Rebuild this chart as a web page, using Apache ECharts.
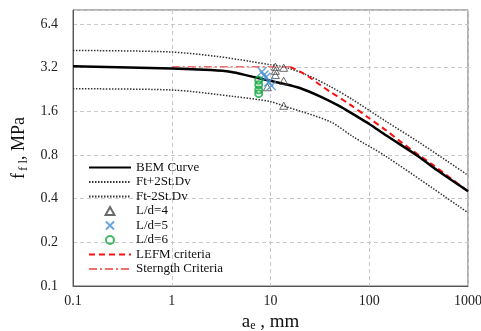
<!DOCTYPE html>
<html>
<head>
<meta charset="utf-8">
<script src="https://cdn.jsdelivr.net/npm/echarts@6/dist/echarts.min.js"></script>
<style>
  html, body { margin: 0; padding: 0; background: #fff; }
  #chart { width: 481px; height: 331px; }
</style>
</head>
<body>
<div id="chart"></div>
<script>
// y axis is log base 2 starting at 0.1 MPa, so values are mapped to log2(y / 0.1)
const Y_BASE = 0.1;
const Y_MAX = 8;
const xTicks = [0.1, 1, 10, 100, 1000];

const bemX = [0.1, 1, 2.5, 3.9, 6.2, 9.9, 12.5, 19.8, 31.7, 50.6, 68.5, 100, 149, 326, 484, 1000];
const bemY = [3.27, 3.16, 3.08, 3.0, 2.8, 2.6, 2.51, 2.32, 2.03, 1.73, 1.53, 1.31, 1.09, 0.77, 0.63, 0.45];

const upX = [0.1, 0.96, 2.86, 6.2, 9.9, 14.6, 23.2, 40, 68.5, 149, 326, 1000];
const upY = [4.21, 4.11, 3.83, 3.54, 3.36, 3.2, 2.86, 2.38, 1.92, 1.36, 0.97, 0.58];

const loX = [0.1, 0.96, 4.17, 9.9, 13.4, 40, 68.5, 149, 1000];
const loY = [2.29, 2.25, 2.03, 1.87, 1.75, 1.36, 1.07, 0.78, 0.32];

const ld4X = [11.2, 11.2, 11.2, 13.6, 13.6, 9.3, 13.6];
const ld4Y = [3.25, 3.05, 2.85, 3.2, 2.6, 2.35, 1.75];
const ld5X = [8.2, 8.6, 9.0, 9.6, 10.2];
const ld5Y = [3.0, 2.85, 2.75, 2.55, 2.4];
const ld6X = [7.6, 7.6, 7.6, 7.6];
const ld6Y = [2.62, 2.44, 2.25, 2.12];

const lefmX = [15.8, 19.8, 25.2, 31.7, 40, 64, 95, 149, 215, 326, 434, 1000];
const lefmY = [3.24, 3.02, 2.73, 2.44, 2.19, 1.78, 1.47, 1.18, 0.97, 0.79, 0.69, 0.45];

const strX = [1, 16];
const strY = [3.25, 3.25];

const lineNames = ['BEM Curve', 'Ft+2St.Dv', 'Ft-2St.Dv'];
const markNames = ['L/d=4', 'L/d=5', 'L/d=6'];
const critNames = ['LEFM criteria', 'Sterngth Criteria'];

const toY = v => Math.log2(v / Y_BASE);
const pts = (xs, ys) => xs.map((x, i) => [x, toY(ys[i])]);

const FONT = 'Liberation Serif';
const chart = echarts.init(document.getElementById('chart'));

const dotted = { color: '#333', width: 1.5, type: [1.5, 1.5] };
// line series draw a circle in their legend icon, hide it
const noDot = name => ({ name, itemStyle: { opacity: 0 } });

const options = {
  backgroundColor: '#fff',
  animation: false,
  grid: {
    left: 73, right: 13, top: 10, bottom: 45,
    outerBoundsMode: 'none',
    show: true, borderColor: '#666', borderWidth: 1
  },
  legend: {
    orient: 'vertical',
    left: 88, top: 161, padding: 0,
    itemWidth: 42, itemHeight: 8, itemGap: 1.5,
    symbolKeepAspect: true,
    textStyle: { fontFamily: FONT, fontSize: 13, lineHeight: 12, color: '#111' },
    data: [
      ...lineNames.map(noDot),
      ...markNames,
      ...critNames.map(noDot)
    ]
  },
  xAxis: {
    type: 'log', logBase: 10, min: xTicks[0], max: xTicks[xTicks.length - 1],
    name: 'a{sub|e} , mm', nameLocation: 'middle', nameGap: 27,
    nameTextStyle: {
      fontFamily: FONT, fontSize: 19, color: '#111',
      rich: { sub: { fontFamily: FONT, fontSize: 12, color: '#111', padding: [6, 0, 0, 0] } }
    },
    axisLine: { lineStyle: { color: '#555' } },
    axisTick: { show: false },
    axisLabel: {
      fontFamily: FONT, fontSize: 14, color: '#222', margin: 8,
      formatter: v => String(+(+v).toPrecision(3))
    },
    splitLine: { show: true, lineStyle: { color: '#c8c8c8', type: [4, 3] } }
  },
  yAxis: {
    type: 'value', min: 0, max: toY(Y_MAX), interval: 1,
    name: '{m|f}{sub|f l}{m|, MPa}', nameLocation: 'middle', nameGap: 37,
    nameTextStyle: {
      fontFamily: FONT, fontSize: 18, color: '#111',
      rich: {
        m: { fontFamily: FONT, fontSize: 18, color: '#111' },
        sub: { fontFamily: FONT, fontSize: 13, color: '#111', padding: [7, 0, 0, 2] }
      }
    },
    axisLine: { show: true, lineStyle: { color: '#555' } },
    axisTick: { show: false },
    axisLabel: {
      fontFamily: FONT, fontSize: 14, color: '#222', margin: 15,
      formatter: v => Math.abs(v - Math.round(v)) > 1e-6 ? '' : (Y_BASE * Math.pow(2, Math.round(v))).toFixed(1)
    },
    splitLine: { show: true, lineStyle: { color: '#c8c8c8', type: [4, 3] } }
  },
  series: [
    {
      name: lineNames[0], type: 'line', data: pts(bemX, bemY), smooth: 0.3,
      symbol: 'none', lineStyle: { color: '#000', width: 2.5 }, itemStyle: { color: '#000' }, z: 4
    },
    {
      name: lineNames[1], type: 'line', data: pts(upX, upY), smooth: 0.3,
      symbol: 'none', lineStyle: dotted, itemStyle: { color: '#333' }
    },
    {
      name: lineNames[2], type: 'line', data: pts(loX, loY), smooth: 0.3,
      symbol: 'none', lineStyle: dotted, itemStyle: { color: '#333' }
    },
    {
      name: markNames[0], type: 'scatter', data: pts(ld4X, ld4Y),
      symbol: 'path://M5,0L10,9L0,9Z', symbolSize: 8, symbolKeepAspect: true,
      itemStyle: { color: 'rgba(255,255,255,0)', borderColor: '#444', borderWidth: 1 }, z: 5
    },
    {
      name: markNames[1], type: 'scatter', data: pts(ld5X, ld5Y),
      symbol: 'path://M0,0L10,10M10,0L0,10', symbolSize: 9, symbolKeepAspect: true,
      itemStyle: { color: 'rgba(255,255,255,0)', borderColor: '#4a90d0', borderWidth: 1.5 }, z: 5
    },
    {
      name: markNames[2], type: 'scatter', data: pts(ld6X, ld6Y),
      symbol: 'circle', symbolSize: 7,
      itemStyle: { color: 'rgba(255,255,255,0)', borderColor: '#14a840', borderWidth: 2 }, z: 5
    },
    {
      name: critNames[0], type: 'line', data: pts(lefmX, lefmY), smooth: 0.3,
      symbol: 'none', lineStyle: { color: '#ff1010', width: 2, type: [6, 4] }, itemStyle: { color: '#ff1010' }, z: 3
    },
    {
      name: critNames[1], type: 'line', data: pts(strX, strY),
      symbol: 'none', lineStyle: { color: '#f07070', width: 1.5, type: [8, 3, 2, 3] }, itemStyle: { color: '#f07070' }, z: 3
    }
  ]
};

chart.setOption(options);
</script>
</body>
</html>
